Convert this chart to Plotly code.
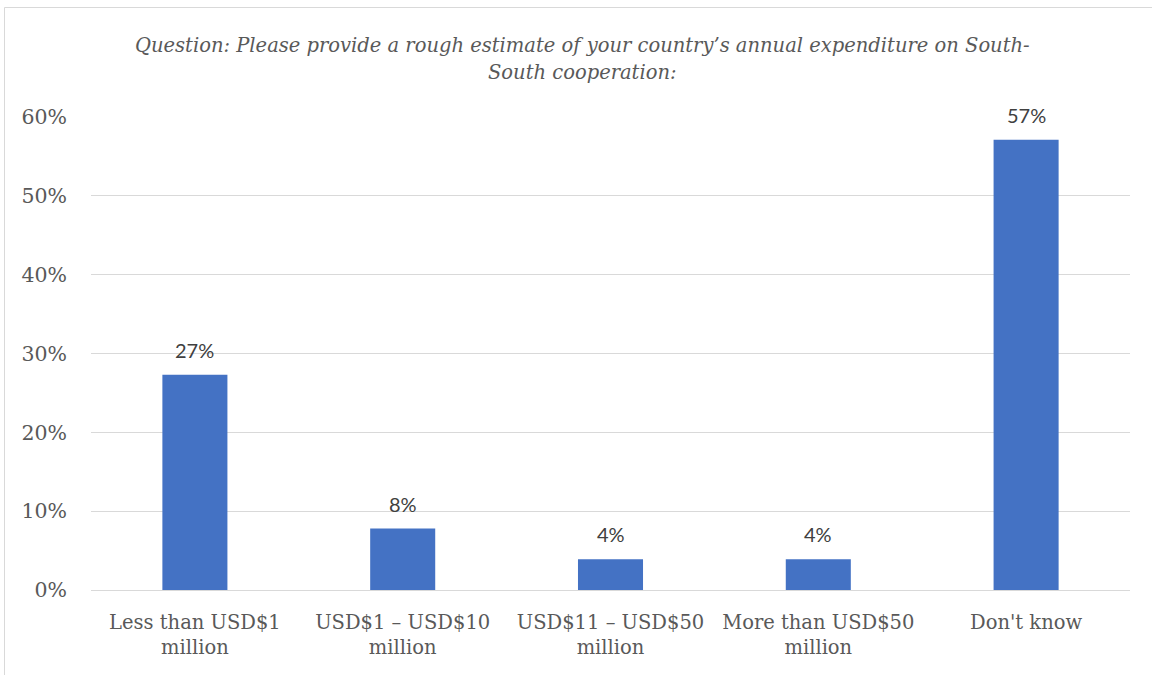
import plotly.graph_objects as go

categories = ["Less than USD$1<br>million", "USD$1 – USD$10<br>million", "USD$11 – USD$50<br>million",
              "More than USD$50<br>million", "Don't know"]
values = [0.273, 0.078, 0.039, 0.039, 0.571]
labels = ["27%", "8%", "4%", "4%", "57%"]
title_lines = ["Question: Please provide a rough estimate of your country’s annual expenditure on South-",
               "South cooperation:"]

W, H = 1152, 675
ml, mr, mt, mb = 91, 22, 117, 85

fig = go.Figure()
fig.add_trace(go.Bar(x=categories, y=values, marker=dict(color="#4472C4", line=dict(width=0)),
                     width=0.313, hoverinfo="skip"))

for c, v, t in zip(categories, values, labels):
    fig.add_annotation(x=c, y=v, text=t, showarrow=False, yanchor="bottom", yshift=11,
                       font=dict(family="Lato", size=20, color="#404040"))

pw = W - ml - mr
ph = H - mt - mb
def px2x(px):
    return (px - ml) / pw
def py2y(py):
    return (H - mb - py) / ph

# title, two centred lines
for line, ypx in zip(title_lines, [45, 72]):
    fig.add_annotation(xref="paper", yref="paper", x=px2x(582), y=py2y(ypx), text=line, showarrow=False,
                       xanchor="center", yanchor="middle",
                       font=dict(family="DejaVu Serif", size=19.5, color="#595959", style="italic"))

# outer chart border (left and top edges visible)
fig.add_shape(type="line", xref="paper", yref="paper", x0=px2x(4.5), x1=px2x(1160), y0=py2y(7.5), y1=py2y(7.5),
              line=dict(color="#d9d9d9", width=1))
fig.add_shape(type="line", xref="paper", yref="paper", x0=px2x(4.5), x1=px2x(4.5), y0=py2y(7.5), y1=py2y(690),
              line=dict(color="#d9d9d9", width=1))

fig.update_layout(
    width=W, height=H,
    margin=dict(l=ml, r=mr, t=mt, b=mb),
    paper_bgcolor="white", plot_bgcolor="white",
    showlegend=False,
    bargap=0.687,
)
fig.update_xaxes(showgrid=False, showline=False, zeroline=False, ticks="",
                 tickfont=dict(family="DejaVu Serif", size=19.5, color="#595959"), ticklabelstandoff=18)
fig.update_yaxes(range=[0, 0.6], dtick=0.1, tickformat=".0%", showgrid=True, gridcolor="#d9d9d9", gridwidth=1,
                 zeroline=True, zerolinecolor="#d9d9d9", zerolinewidth=1, showline=False, ticks="",
                 tickfont=dict(family="DejaVu Serif", size=20.5, color="#595959"), ticklabelstandoff=23)

fig.write_html("out.html")
